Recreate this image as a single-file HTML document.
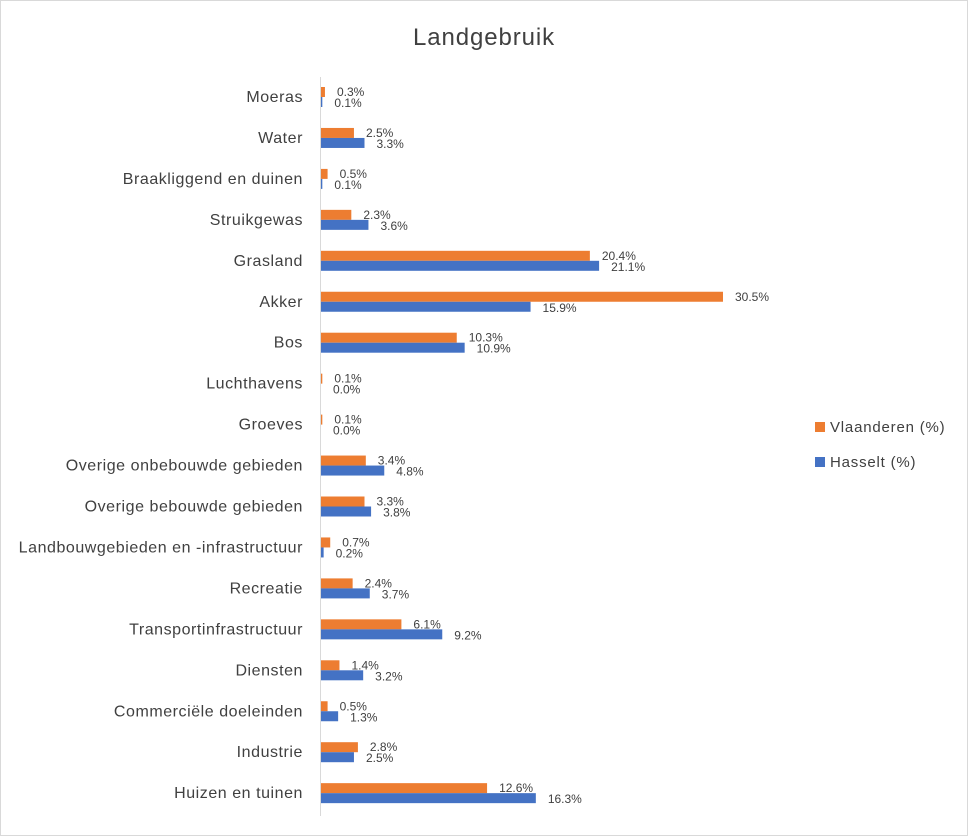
<!DOCTYPE html>
<html><head><meta charset="utf-8"><style>
html,body{margin:0;padding:0;background:#fff;}
svg{display:block;font-family:"Liberation Sans",sans-serif;}
</style></head><body>
<svg id="chart" width="968" height="836">
<rect x="0.5" y="0.5" width="967" height="835" fill="#fff" stroke="#d9d9d9"/>
<text x="484" y="45" text-anchor="middle" font-size="24" letter-spacing="0.9" fill="#404040">Landgebruik</text>
<line x1="320.5" y1="77" x2="320.5" y2="816" stroke="#d9d9d9"/>
<g id="bars"></g>
<rect x="815" y="422" width="10" height="10" fill="#ED7D31"/>
<text x="830" y="432" font-size="15" letter-spacing="0.8" fill="#404040">Vlaanderen (%)</text>
<rect x="815" y="457" width="10" height="10" fill="#4472C4"/>
<text x="830" y="467" font-size="15" letter-spacing="0.8" fill="#404040">Hasselt (%)</text>
</svg>
<script>
const categories=["Moeras","Water","Braakliggend en duinen","Struikgewas","Grasland","Akker","Bos","Luchthavens","Groeves","Overige onbebouwde gebieden","Overige bebouwde gebieden","Landbouwgebieden en -infrastructuur","Recreatie","Transportinfrastructuur","Diensten","Commerciële doeleinden","Industrie","Huizen en tuinen"];
const vlaanderen=[0.3,2.5,0.5,2.3,20.4,30.5,10.3,0.1,0.1,3.4,3.3,0.7,2.4,6.1,1.4,0.5,2.8,12.6];
const hasselt=[0.1,3.3,0.1,3.6,21.1,15.9,10.9,0.0,0.0,4.8,3.8,0.2,3.7,9.2,3.2,1.3,2.5,16.3];
const NS="http://www.w3.org/2000/svg";
const x=v=>321+v*13.18;
const yc=i=>97+i*40.95;
const g=document.getElementById('bars');
function mk(t,a){const e=document.createElementNS(NS,t);for(const k in a)e.setAttribute(k,a[k]);g.appendChild(e);return e;}
categories.forEach((c,i)=>{
  const cy=yc(i);
  const t=mk('text',{x:303,y:cy+5,'text-anchor':'end','font-size':16,'letter-spacing':0.55,fill:'#404040'});
  t.textContent=c;
  
  
  const r1=mk('rect',{x:321,y:cy-10,width:Math.max(x(vlaanderen[i])-321,0),height:10,fill:'#ED7D31'});
  
  
  const r2=mk('rect',{x:321,y:cy,width:Math.max(x(hasselt[i])-321,0),height:10,fill:'#4472C4'});
  
  
  const l1=mk('text',{x:x(vlaanderen[i])+12,y:cy-1,'font-size':12,fill:'#404040'});
  l1.textContent=vlaanderen[i].toFixed(1)+'%';
  
  
  const l2=mk('text',{x:x(hasselt[i])+12,y:cy+10,'font-size':12,fill:'#404040'});
  l2.textContent=hasselt[i].toFixed(1)+'%';
  
  
});
</script>
</body></html>
